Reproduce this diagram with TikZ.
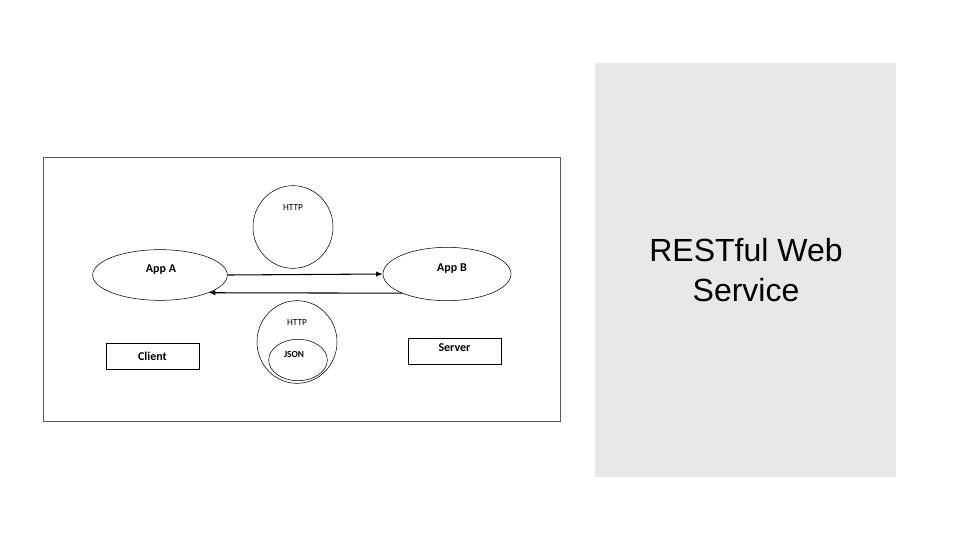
\documentclass[tikz,border=0pt]{standalone}
\usepackage{fontspec}
\setmainfont{Carlito}
\newfontfamily\titlefont{Liberation Sans}
\usetikzlibrary{arrows.meta,shapes.geometric}
\tikzset{
    blob/.style={ellipse, draw, inner sep=0pt}, % ellipses and circles
    tag/.style={draw, minimum width=70pt, minimum height=19.5pt, font=\bfseries\fontsize{9}{10}\selectfont},
    link/.style={thick, -{Latex[length=5pt,width=4pt]}}
}
\begin{document}
\begin{tikzpicture}[x=0.75pt, y=-0.75pt]
    \fill[white] (0,0) rectangle (960,540);
    \fill[gray!18] (595,63) rectangle (896,477);
    \node[font=\titlefont\fontsize{24}{30}\selectfont, align=center] (title) at (746,270) {RESTful Web\\Service};

    \draw[gray!70!black] (43,157) rectangle (560,421);

    \node[blob, minimum width=60pt, minimum height=62pt] (top) at (293,227) {};
    \node[font=\fontsize{7}{8}\selectfont] (toplbl) at (293,207) {HTTP};

    \node[blob, minimum width=101pt, minimum height=38pt] (appA) at (160,275) {};
    \node[font=\bfseries\fontsize{9}{10}\selectfont] (albl) at (161,270) {App A};
    \node[blob, minimum width=96pt, minimum height=40pt] (appB) at (447,274) {};
    \node[font=\bfseries\fontsize{9}{10}\selectfont] (blbl) at (452,269) {App B};

    \draw[link] (appA.east) -- (appB.west);
    \draw[link] (appB.203) -- (appA.-20);

    \node[blob, minimum width=60pt, minimum height=62pt] (msg) at (297,342) {};
    \node[font=\fontsize{7}{8}\selectfont] (msglbl) at (297,322) {HTTP};
    \node[blob, minimum width=44pt, minimum height=31pt] (json) at (298,360) {};
    \node[font=\bfseries\fontsize{7}{8}\selectfont] (jlbl) at (294,354) {JSON};

    \node[tag] (client) at (152.5,356) {Client};
    \node[tag, text depth=6pt] (server) at (454.5,351.5) {Server};
\end{tikzpicture}
\end{document}
